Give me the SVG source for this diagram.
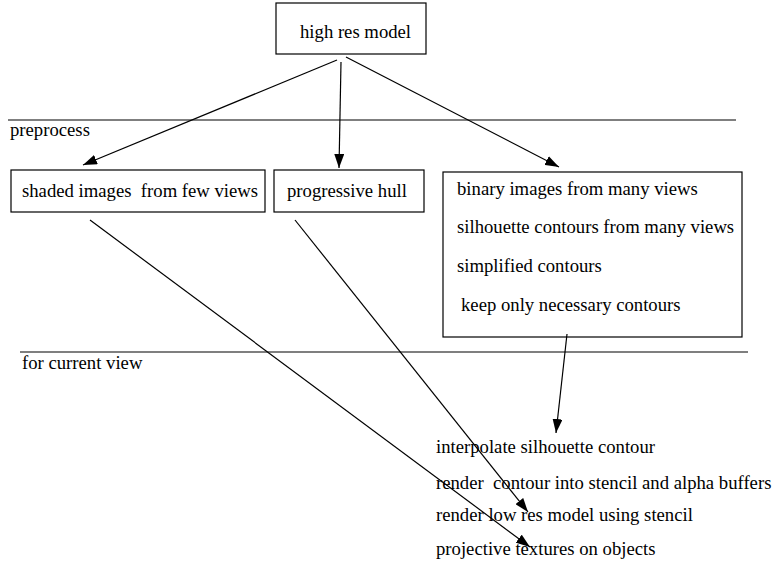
<svg xmlns="http://www.w3.org/2000/svg" width="774" height="563" viewBox="0 0 774 563" font-family="Liberation Serif, Times New Roman, serif" font-size="18.7">
<style>
text{fill:#000}
.box{fill:#fff;stroke:#000;stroke-width:1.2}
.sep{stroke:#000;stroke-width:1.2}
.edge{stroke:#000;stroke-width:1.2;fill:none;marker-end:url(#ah)}
</style>
<defs>
<marker id="ah" markerWidth="14" markerHeight="10" refX="14" refY="5" orient="auto" markerUnits="userSpaceOnUse">
<path d="M0,0 L14,5 L0,10 Z" fill="#000"/>
</marker>
</defs>
<line class="sep" x1="8" y1="120" x2="736" y2="120"/>
<text x="10" y="136">preprocess</text>
<line class="sep" x1="20" y1="352" x2="748" y2="352"/>
<text x="22" y="369">for current view</text>
<g id="high">
<rect class="box" x="276" y="3" width="150" height="51"/>
<text x="300" y="38">high res model</text>
</g>
<g id="shaded">
<rect class="box" x="11" y="170" width="254" height="42"/>
<text x="22" y="197" xml:space="preserve">shaded images  from few views</text>
</g>
<g id="hull">
<rect class="box" x="274" y="170" width="150" height="42"/>
<text x="287" y="197">progressive hull</text>
</g>
<g id="binary">
<rect class="box" x="443" y="172" width="299" height="165"/>
<text x="457" y="195">binary images from many views</text>
<text x="457" y="233">silhouette contours from many views</text>
<text x="457" y="272">simplified contours</text>
<text x="461" y="311">keep only necessary contours</text>
</g>
<g id="current">
<text x="436" y="453">interpolate silhouette contour</text>
<text x="436" y="489" xml:space="preserve">render  contour into stencil and alpha buffers</text>
<text x="436" y="521">render low res model using stencil</text>
<text x="436" y="555">projective textures on objects</text>
</g>
<g id="connectors">
<line class="edge" x1="337" y1="60" x2="83" y2="165"/>
<line class="edge" x1="341" y1="62" x2="339" y2="168"/>
<line class="edge" x1="346" y1="57" x2="559" y2="167"/>
<line class="edge" x1="567" y1="334" x2="556" y2="433"/>
<line class="edge" x1="295" y1="220" x2="528" y2="512"/>
<line class="edge" x1="90" y1="220" x2="530" y2="547"/>
</g>
</svg>
